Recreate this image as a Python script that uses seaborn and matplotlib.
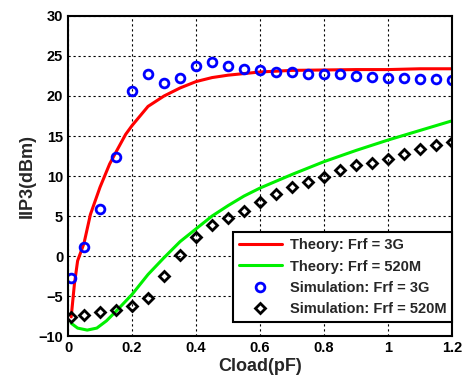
import numpy as np
import pandas as pd
import matplotlib
matplotlib.use("Agg")
import matplotlib.pyplot as plt
import seaborn as sns
from matplotlib.ticker import FormatStrFormatter

# Theory curves
theory_3g_x = [0.01, 0.02, 0.03, 0.05, 0.07, 0.1, 0.13, 0.15, 0.18, 0.2, 0.25, 0.3,
               0.35, 0.4, 0.45, 0.5, 0.6, 0.7, 0.8, 0.9, 1.0, 1.1, 1.2]
theory_3g_y = [-7.6, -3.5, -0.6, 1.6, 5.2, 8.6, 11.5, 13.0, 15.2, 16.3, 18.7, 20.0,
               21.0, 21.8, 22.3, 22.6, 23.0, 23.2, 23.25, 23.3, 23.3, 23.4, 23.4]

theory_520m_x = [0.01, 0.03, 0.06, 0.09, 0.12, 0.15, 0.2, 0.25, 0.3, 0.35, 0.4, 0.45,
                 0.5, 0.55, 0.6, 0.7, 0.8, 0.9, 1.0, 1.1, 1.2]
theory_520m_y = [-8.4, -9.0, -9.25, -9.0, -8.1, -6.9, -4.8, -2.3, -0.2, 1.8, 3.4, 5.0,
                 6.3, 7.5, 8.5, 10.2, 11.8, 13.2, 14.5, 15.7, 16.9]

# Simulation points
sim_x = [0.01, 0.05, 0.1, 0.15, 0.2, 0.25, 0.3, 0.35, 0.4, 0.45, 0.5, 0.55, 0.6,
         0.65, 0.7, 0.75, 0.8, 0.85, 0.9, 0.95, 1.0, 1.05, 1.1, 1.15, 1.2]
sim_3g_y = [-2.7, 1.1, 5.9, 12.4, 20.6, 22.7, 21.6, 22.2, 23.7, 24.2, 23.7, 23.4, 23.2,
            23.0, 23.0, 22.8, 22.8, 22.7, 22.5, 22.4, 22.3, 22.2, 22.1, 22.1, 22.0]
sim_520m_y = [-7.6, -7.4, -7.05, -6.75, -6.25, -5.2, -2.5, 0.1, 2.4, 3.9, 4.7, 5.6, 6.8,
              7.8, 8.6, 9.2, 9.9, 10.75, 11.4, 11.6, 12.1, 12.75, 13.4, 13.9, 14.2]

sns.set_theme(style="white")
plt.rcParams["font.family"] = ["Liberation Sans", "DejaVu Sans"]
plt.rcParams["font.weight"] = "bold"

fig = plt.figure(figsize=(4.69, 3.89), dpi=100)
ax = fig.add_axes([0.145, 0.136, 0.819, 0.823])

sns.lineplot(x=theory_3g_x, y=theory_3g_y, color="#ff0000", lw=2.2,
             label="Theory: Frf = 3G", ax=ax)
sns.lineplot(x=theory_520m_x, y=theory_520m_y, color="#00f000", lw=2.2,
             label="Theory: Frf = 520M", ax=ax)
sns.lineplot(x=sim_x, y=sim_3g_y, linestyle="", marker="o", ms=6.3, mfc="none",
             mec="#0000ff", mew=2, label="Simulation: Frf = 3G", ax=ax)
sns.lineplot(x=sim_x, y=sim_520m_y, linestyle="", marker="D", ms=5.3, mfc="none",
             mec="black", mew=2, label="Simulation: Frf = 520M", ax=ax)

ax.set_xlim(0, 1.2)
ax.set_ylim(-10, 30)
ax.set_xticks(np.arange(0, 1.21, 0.2))
ax.set_yticks(np.arange(-10, 31, 5))
ax.xaxis.set_major_formatter(FormatStrFormatter("%g"))
ax.tick_params(direction="in", length=4, width=1, colors="black", labelsize=10.5)
for lbl in ax.get_xticklabels() + ax.get_yticklabels():
    lbl.set_fontweight("bold")
ax.grid(True, color="black", linestyle=(0, (2, 2.5)), linewidth=0.8)
for s in ax.spines.values():
    s.set_color("black")
    s.set_linewidth(1.5)

ax.set_xlabel("Cload(pF)", fontsize=13, fontweight="bold", labelpad=2)
ax.set_ylabel("IIP3(dBm)", fontsize=13, fontweight="bold", labelpad=2)

leg = ax.legend(loc="lower right", bbox_to_anchor=(1.0, 0.044), fancybox=False,
                framealpha=1, edgecolor="black", fontsize=10.5, handlelength=3.0,
                borderaxespad=0, borderpad=0.4, labelspacing=0.5, handletextpad=0.5)
leg.get_frame().set_linewidth(1.5)
for t in leg.get_texts():
    t.set_fontweight("bold")

fig.savefig("out.png", dpi=100)
